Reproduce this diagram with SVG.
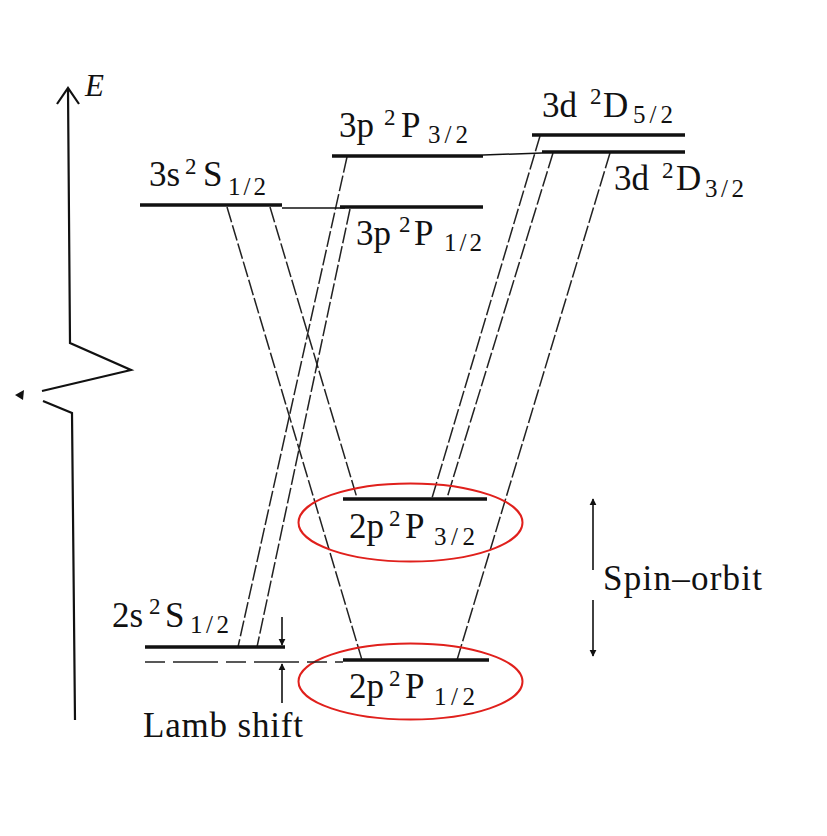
<svg xmlns="http://www.w3.org/2000/svg" width="827" height="836" viewBox="0 0 827 836">
<style>
.bg{fill:#fff}
.lvl{stroke:#111;stroke-width:3.5;fill:none}
.thin{stroke:#111;stroke-width:1.5;fill:none}
.tr{stroke:#222;stroke-width:1.5;fill:none;stroke-dasharray:16 3}
.lamb{stroke:#222;stroke-width:1.5;fill:none;stroke-dasharray:20 8 45 8}
.ax{stroke:#111;stroke-width:2.2;fill:none}
.t{font-family:"Liberation Serif","Times New Roman",serif;font-size:35px;fill:#111}
.sup{font-family:"Liberation Serif","Times New Roman",serif;font-size:23px;fill:#111}
.sub{font-family:"Liberation Serif","Times New Roman",serif;font-size:25px;fill:#111}
.ell{fill:none;stroke:#e0201c;stroke-width:2}
.arr{stroke:#111;stroke-width:1.6;fill:none}
</style>
<defs>
<marker id="ah" viewBox="0 0 10 10" refX="9" refY="5" markerWidth="7" markerHeight="8" markerUnits="userSpaceOnUse" orient="auto">
<path d="M0,0 L10,5 L0,10 z" fill="#111"/>
</marker>
</defs>
<rect class="bg" width="827" height="836"/>

<g id="axis">
<polyline class="ax" points="68,90 70,343 131,370 42,391"/>
<polyline class="ax" points="43,401 72,413 75,720"/>
<polyline class="ax" points="57,104 68,88 79,104"/>
<path d="M15,395 L24,390 L23,400 z" fill="#111"/>
<text x="85" y="96" style="font-family:'Liberation Serif',serif;font-style:italic;font-size:31px;fill:#111">E</text>
</g>

<g id="connectors">
<line class="tr" x1="227" y1="207" x2="362" y2="660"/>
<line class="tr" x1="270" y1="207" x2="357" y2="498"/>
<line class="tr" x1="347" y1="157" x2="238" y2="647"/>
<line class="tr" x1="350" y1="209" x2="257" y2="647"/>
<line class="tr" x1="540" y1="136" x2="432" y2="498"/>
<line class="tr" x1="553" y1="153" x2="447" y2="498"/>
<line class="tr" x1="610" y1="153" x2="457" y2="660"/>
</g>

<g id="lvl-3s">
<line class="lvl" x1="140" y1="205" x2="282" y2="205"/>
<line class="thin" x1="282" y1="208" x2="345" y2="208"/>
<text class="t" x="149" y="186">3s</text>
<text class="sup" x="185" y="174">2</text>
<text class="t" x="203" y="186">S</text>
<text class="sub" x="228" y="195" textLength="38">1/2</text>
</g>

<g id="lvl-3p12">
<line class="lvl" x1="340" y1="207" x2="483" y2="207"/>
<text class="t" x="356" y="245">3p</text>
<text class="sup" x="399" y="232">2</text>
<text class="t" x="414" y="245">P</text>
<text class="sub" x="444" y="251" textLength="38">1/2</text>
</g>

<g id="lvl-3p32">
<line class="lvl" x1="332" y1="156" x2="483" y2="156"/>
<line class="thin" x1="483" y1="155" x2="542" y2="153"/>
<text class="t" x="339" y="137">3p</text>
<text class="sup" x="384" y="125">2</text>
<text class="t" x="401" y="137">P</text>
<text class="sub" x="428" y="143" textLength="40">3/2</text>
</g>

<g id="lvl-3d52">
<line class="lvl" x1="532" y1="135" x2="685" y2="135"/>
<text class="t" x="542" y="117">3d</text>
<text class="sup" x="590" y="104">2</text>
<text class="t" x="603" y="117">D</text>
<text class="sub" x="633" y="123" textLength="40">5/2</text>
</g>

<g id="lvl-3d32">
<line class="lvl" x1="542" y1="152" x2="685" y2="152"/>
<text class="t" x="614" y="190">3d</text>
<text class="sup" x="662" y="178">2</text>
<text class="t" x="676" y="190">D</text>
<text class="sub" x="705" y="197" textLength="39">3/2</text>
</g>

<g id="lvl-2p32">
<line class="lvl" x1="343" y1="499" x2="487" y2="499"/>
<text class="t" x="349" y="538">2p</text>
<text class="sup" x="389" y="526">2</text>
<text class="t" x="405" y="538">P</text>
<text class="sub" x="434" y="545" textLength="41">3/2</text>
<ellipse class="ell" cx="410.5" cy="522.5" rx="112" ry="39"/>
</g>

<g id="lvl-2p12">
<line class="lvl" x1="343" y1="660" x2="489" y2="660"/>
<text class="t" x="349" y="698">2p</text>
<text class="sup" x="389" y="686">2</text>
<text class="t" x="405" y="698">P</text>
<text class="sub" x="434" y="705" textLength="41">1/2</text>
<ellipse class="ell" cx="410.5" cy="681.5" rx="112" ry="38"/>
</g>

<g id="lvl-2s">
<line class="lvl" x1="145" y1="647" x2="285" y2="647"/>
<line class="lamb" x1="145" y1="662" x2="343" y2="662"/>
<text class="t" x="112" y="627">2s</text>
<text class="sup" x="149" y="614">2</text>
<text class="t" x="165" y="627">S</text>
<text class="sub" x="190" y="633" textLength="39">1/2</text>
</g>

<g id="lamb-shift">
<line class="arr" x1="282" y1="617" x2="282" y2="645" marker-end="url(#ah)"/>
<line class="arr" x1="282" y1="703" x2="282" y2="664" marker-end="url(#ah)"/>
<text class="t" x="143" y="737" textLength="160">Lamb shift</text>
</g>

<g id="spin-orbit">
<line class="arr" x1="593" y1="570" x2="593" y2="499" marker-end="url(#ah)"/>
<line class="arr" x1="593" y1="600" x2="593" y2="656" marker-end="url(#ah)"/>
<text class="t" x="603" y="590" textLength="159">Spin–orbit</text>
</g>
</svg>
